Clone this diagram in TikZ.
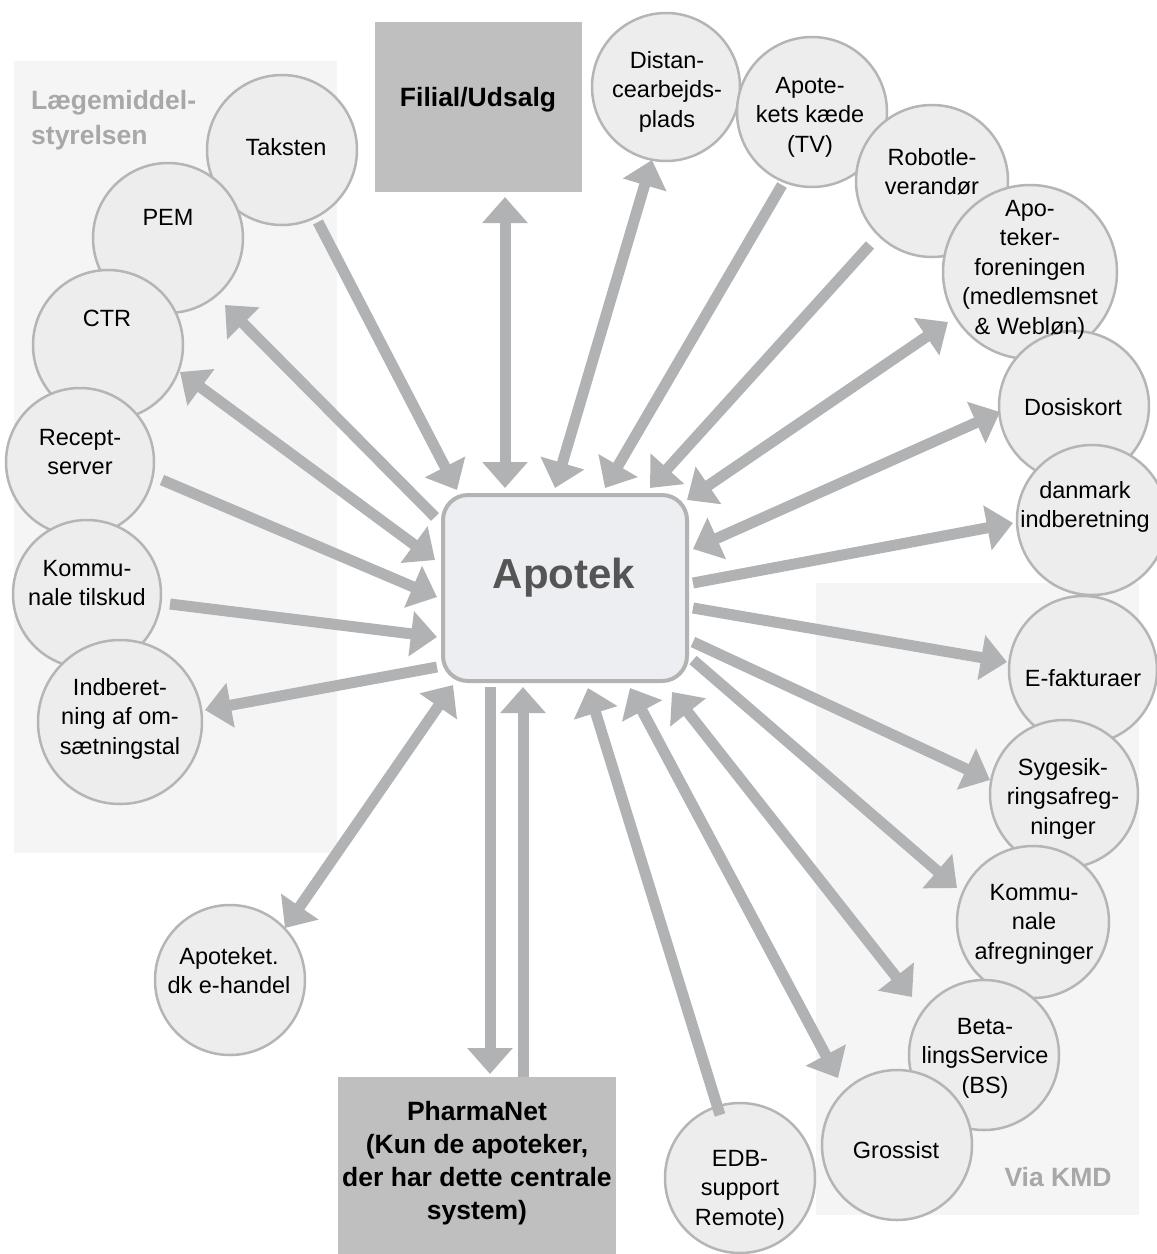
\documentclass[tikz,border=0pt]{standalone}
\usepackage{fontspec}
\setmainfont{Liberation Sans}
\usetikzlibrary{arrows.meta}
\definecolor{arrowgray}{HTML}{B1B2B4}
\definecolor{circfill}{HTML}{ECEDEC}
\definecolor{circline}{HTML}{B5B5B5}
\definecolor{bgpanel}{HTML}{F5F5F5}
\definecolor{boxgray}{HTML}{BFBFBF}
\definecolor{apfill}{HTML}{EDEEF2}
\definecolor{apline}{HTML}{B3B3B3}
\definecolor{aptext}{HTML}{555555}
\definecolor{paneltext}{HTML}{A8A8A8}
\begin{document}
\begin{tikzpicture}[x=1pt,y=-1pt,
  >={Triangle[length=26pt,width=44pt]},
  circ/.style={circle, draw=circline, fill=circfill, line width=2.5pt, minimum size=#1, inner sep=0pt},
  circ/.default=150pt,
  ctxt/.style={font=\fontsize{23.5}{29.5}\selectfont, align=center, anchor=north, yshift=12.4pt, inner sep=0pt},
  btxt/.style={font=\bfseries\fontsize{26.5}{33}\selectfont, align=center, anchor=north, yshift=13.8pt, inner sep=0pt},
  ptxt/.style={font=\bfseries\fontsize{26.5}{35}\selectfont, text=paneltext, inner sep=0pt},
  conn/.style={draw=arrowgray, line width=11pt},
  panel/.style={fill=bgpanel, draw=none},
  graybox/.style={fill=boxgray, draw=none}]
\useasboundingbox (0,0) rectangle (1157,1254);
% panels
\fill[panel] (14,61) rectangle (337,853);
\fill[panel] (816,583) rectangle (1139,1215);
\node[ptxt, align=left, anchor=north west, yshift=15.2pt] (lms) at (31,100) {\strut Lægemiddel-\\styrelsen};
\node[ptxt, anchor=base] (kmd) at (1058,1186) {Via KMD};
% boxes
\node[graybox, minimum width=207pt, minimum height=170pt, inner sep=0pt] (filial) at (478.5,107) {};
\node[btxt] (filialt) at (478,97) {\strut Filial/Udsalg};
\node[graybox, minimum width=278pt, minimum height=180pt, inner sep=0pt] (pharma) at (477,1167) {};
\node[btxt] (pharmat) at (477,1111) {\strut PharmaNet\\(Kun de apoteker,\\der har dette centrale\\system)};
% circles left
\node[circ] (taksten) at (282,150) {};
\node[circ] (pem) at (168,238) {};
\node[circ] (ctr) at (108,345) {};
\node[circ=148pt] (recept) at (80,462) {};
\node[circ=148pt] (kommtil) at (87,594) {};
\node[circ=164pt] (indb) at (120,722) {};
\node[circ] (ehandel) at (230,980) {};
% circles right
\node[circ=148pt] (distan) at (666,87) {};
\node[circ] (kaede) at (812,112) {};
\node[circ=152pt] (robot) at (932,181) {};
\node[circ=174pt] (apofor) at (1030,272) {};
\node[circ] (dosis) at (1074,406) {};
\node[circ] (danmark) at (1092,520) {};
\node[circ=148pt] (efakt) at (1083,670) {};
\node[circ=148pt] (sygesik) at (1064,794) {};
\node[circ=152pt] (kommafr) at (1033,922) {};
\node[circ] (bs) at (984,1055) {};
\node[circ] (grossist) at (897,1145) {};
\node[circ] (edb) at (740,1178) {};
% circle texts
\node[ctxt] (t-taksten) at (286,147) {\strut Taksten};
\node[ctxt] (t-pem) at (168,217) {\strut PEM};
\node[ctxt] (t-ctr) at (107,318) {\strut CTR};
\node[ctxt] (t-recept) at (80,437) {\strut Recept-\\server};
\node[ctxt] (t-kommtil) at (87,568) {\strut Kommu-\\nale tilskud};
\node[ctxt] (t-indb) at (120,687) {\strut Indberet-\\ning af om-\\sætningstal};
\node[ctxt] (t-ehandel) at (229,956) {\strut Apoteket.\\dk e-handel};
\node[ctxt] (t-distan) at (667,60) {\strut Distan-\\cearbejds-\\plads};
\node[ctxt] (t-kaede) at (810,85) {\strut Apote-\\kets kæde\\(TV)};
\node[ctxt] (t-robot) at (932,157) {\strut Robotle-\\verandør};
\node[ctxt] (t-apofor) at (1030,208) {\strut Apo-\\teker-\\foreningen\\(medlemsnet\\\& Webløn)};
\node[ctxt] (t-dosis) at (1073,407) {\strut Dosiskort};
\node[ctxt] (t-danmark) at (1085,490) {\strut danmark\\indberetning};
\node[ctxt] (t-efakt) at (1083,678) {\strut E-fakturaer};
\node[ctxt] (t-sygesik) at (1063,767) {\strut Sygesik-\\ringsafreg-\\ninger};
\node[ctxt] (t-kommafr) at (1034,892) {\strut Kommu-\\nale\\afregninger};
\node[ctxt] (t-bs) at (985,1026) {\strut Beta-\\lingsService\\(BS)};
\node[ctxt] (t-grossist) at (896,1150) {\strut Grossist};
\node[ctxt] (t-edb) at (740,1158) {\strut EDB-\\support\\Remote)};
% central node
\node[draw=apline, fill=apfill, line width=4pt, rounded corners=25pt, minimum width=244pt, minimum height=186pt, inner sep=0pt] (apotek) at (565,588) {};
\node[font=\bfseries\fontsize{42}{50}\selectfont, text=aptext, anchor=base, inner sep=0pt] (apotekt) at (564,588) {Apotek};
% connector end points
\coordinate (taksten-e) at (318,222);  \coordinate (ap-taksten) at (457,490);
\coordinate (pem-e) at (225,305);      \coordinate (ap-pem) at (435,517);
\coordinate (ctr-e) at (180,372);      \coordinate (ap-ctr) at (435,560);
\coordinate (recept-e) at (162,480);   \coordinate (ap-recept) at (437,597);
\coordinate (kommtil-e) at (170,604);  \coordinate (ap-kommtil) at (437,637);
\coordinate (indb-e) at (205,710);     \coordinate (ap-indb) at (437,667);
\coordinate (ehandel-e) at (285,928);  \coordinate (ap-ehandel) at (453,685);
\coordinate (filial-e) at (505,197);   \coordinate (ap-filial) at (505,488);
\coordinate (distan-e) at (652,160);   \coordinate (ap-distan) at (555,488);
\coordinate (kaede-e) at (782,185);    \coordinate (ap-kaede) at (605,488);
\coordinate (robot-e) at (870,245);    \coordinate (ap-robot) at (650,488);
\coordinate (apofor-e) at (948,322);   \coordinate (ap-apofor) at (687,500);
\coordinate (dosis-e) at (1000,412);   \coordinate (ap-dosis) at (693,549);
\coordinate (danmark-e) at (1013,523); \coordinate (ap-danmark) at (693,583);
\coordinate (efakt-e) at (1007,662);   \coordinate (ap-efakt) at (693,608);
\coordinate (sygesik-e) at (990,780);  \coordinate (ap-sygesik) at (693,642);
\coordinate (kommafr-e) at (957,888);  \coordinate (ap-kommafr) at (693,660);
\coordinate (bs-e) at (912,997);       \coordinate (ap-bs) at (672,692);
\coordinate (grossist-e) at (838,1078);\coordinate (ap-grossist) at (630,688);
\coordinate (edb-e) at (720,1115);     \coordinate (ap-edb) at (588,688);
\coordinate (pharma-l) at (490,1074);  \coordinate (ap-pharma-l) at (490,687);
\coordinate (pharma-r) at (523,1077);  \coordinate (ap-pharma-r) at (523,687);
% connectors
\draw[conn,->] (taksten-e) -- (ap-taksten);
\draw[conn,->] (ap-pem) -- (pem-e);
\draw[conn,<->] (ctr-e) -- (ap-ctr);
\draw[conn,->] (recept-e) -- (ap-recept);
\draw[conn,->] (kommtil-e) -- (ap-kommtil);
\draw[conn,->] (ap-indb) -- (indb-e);
\draw[conn,<->] (ehandel-e) -- (ap-ehandel);
\draw[conn,<->] (filial-e) -- (ap-filial);
\draw[conn,<->] (distan-e) -- (ap-distan);
\draw[conn,->] (kaede-e) -- (ap-kaede);
\draw[conn,->] (robot-e) -- (ap-robot);
\draw[conn,<->] (apofor-e) -- (ap-apofor);
\draw[conn,<->] (dosis-e) -- (ap-dosis);
\draw[conn,->] (ap-danmark) -- (danmark-e);
\draw[conn,->] (ap-efakt) -- (efakt-e);
\draw[conn,->] (ap-sygesik) -- (sygesik-e);
\draw[conn,->] (ap-kommafr) -- (kommafr-e);
\draw[conn,<->] (ap-bs) -- (bs-e);
\draw[conn,<->] (ap-grossist) -- (grossist-e);
\draw[conn,->] (edb-e) -- (ap-edb);
\draw[conn,->] (ap-pharma-l) -- (pharma-l);
\draw[conn,->] (pharma-r) -- (ap-pharma-r);
\end{tikzpicture}
\end{document}
